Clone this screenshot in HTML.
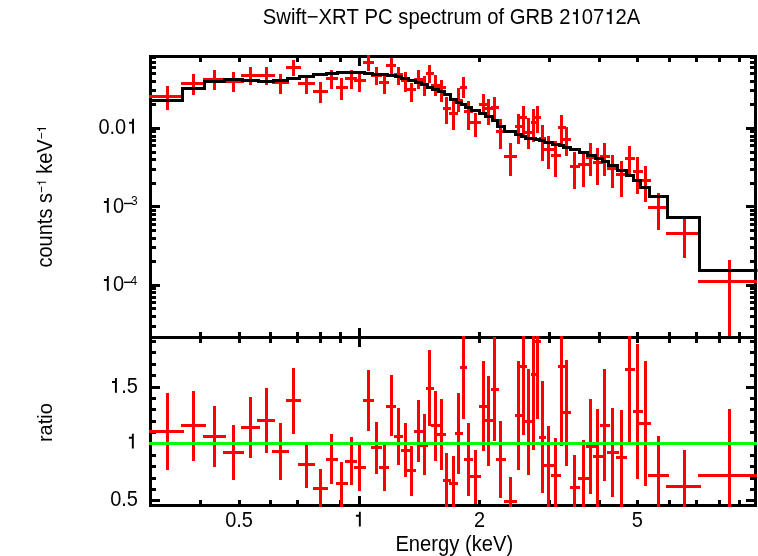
<!DOCTYPE html>
<html><head><meta charset="utf-8"><style>
html,body{margin:0;padding:0;background:#fff;width:758px;height:556px;overflow:hidden}
svg{display:block;will-change:transform}
</style></head><body>
<svg width="758" height="556" viewBox="0 0 758 556">
<rect width="758" height="556" fill="#fff"/>
<rect x="149.00" y="55.00" width="608.00" height="3.00" fill="#000000"/>
<rect x="149.00" y="336.00" width="608.00" height="3.00" fill="#000000"/>
<rect x="149.00" y="504.00" width="608.00" height="3.00" fill="#000000"/>
<rect x="149.00" y="55.00" width="3.00" height="452.00" fill="#000000"/>
<rect x="754.00" y="55.00" width="3.00" height="452.00" fill="#000000"/>
<rect x="199.00" y="58.00" width="3.00" height="4.00" fill="#000000"/>
<rect x="199.00" y="332.00" width="3.00" height="4.00" fill="#000000"/>
<rect x="199.00" y="339.00" width="3.00" height="4.00" fill="#000000"/>
<rect x="199.00" y="500.00" width="3.00" height="4.00" fill="#000000"/>
<rect x="238.00" y="58.00" width="3.00" height="4.00" fill="#000000"/>
<rect x="238.00" y="332.00" width="3.00" height="4.00" fill="#000000"/>
<rect x="238.00" y="339.00" width="3.00" height="4.00" fill="#000000"/>
<rect x="238.00" y="500.00" width="3.00" height="4.00" fill="#000000"/>
<rect x="269.00" y="58.00" width="3.00" height="4.00" fill="#000000"/>
<rect x="269.00" y="332.00" width="3.00" height="4.00" fill="#000000"/>
<rect x="269.00" y="339.00" width="3.00" height="4.00" fill="#000000"/>
<rect x="269.00" y="500.00" width="3.00" height="4.00" fill="#000000"/>
<rect x="296.00" y="58.00" width="3.00" height="4.00" fill="#000000"/>
<rect x="296.00" y="332.00" width="3.00" height="4.00" fill="#000000"/>
<rect x="296.00" y="339.00" width="3.00" height="4.00" fill="#000000"/>
<rect x="296.00" y="500.00" width="3.00" height="4.00" fill="#000000"/>
<rect x="319.00" y="58.00" width="3.00" height="4.00" fill="#000000"/>
<rect x="319.00" y="332.00" width="3.00" height="4.00" fill="#000000"/>
<rect x="319.00" y="339.00" width="3.00" height="4.00" fill="#000000"/>
<rect x="319.00" y="500.00" width="3.00" height="4.00" fill="#000000"/>
<rect x="339.00" y="58.00" width="3.00" height="4.00" fill="#000000"/>
<rect x="339.00" y="332.00" width="3.00" height="4.00" fill="#000000"/>
<rect x="339.00" y="339.00" width="3.00" height="4.00" fill="#000000"/>
<rect x="339.00" y="500.00" width="3.00" height="4.00" fill="#000000"/>
<rect x="358.00" y="58.00" width="3.00" height="8.00" fill="#000000"/>
<rect x="358.00" y="328.00" width="3.00" height="8.00" fill="#000000"/>
<rect x="358.00" y="339.00" width="3.00" height="8.00" fill="#000000"/>
<rect x="358.00" y="496.00" width="3.00" height="8.00" fill="#000000"/>
<rect x="478.00" y="58.00" width="3.00" height="4.00" fill="#000000"/>
<rect x="478.00" y="332.00" width="3.00" height="4.00" fill="#000000"/>
<rect x="478.00" y="339.00" width="3.00" height="4.00" fill="#000000"/>
<rect x="478.00" y="500.00" width="3.00" height="4.00" fill="#000000"/>
<rect x="548.00" y="58.00" width="3.00" height="4.00" fill="#000000"/>
<rect x="548.00" y="332.00" width="3.00" height="4.00" fill="#000000"/>
<rect x="548.00" y="339.00" width="3.00" height="4.00" fill="#000000"/>
<rect x="548.00" y="500.00" width="3.00" height="4.00" fill="#000000"/>
<rect x="598.00" y="58.00" width="3.00" height="4.00" fill="#000000"/>
<rect x="598.00" y="332.00" width="3.00" height="4.00" fill="#000000"/>
<rect x="598.00" y="339.00" width="3.00" height="4.00" fill="#000000"/>
<rect x="598.00" y="500.00" width="3.00" height="4.00" fill="#000000"/>
<rect x="636.00" y="58.00" width="3.00" height="4.00" fill="#000000"/>
<rect x="636.00" y="332.00" width="3.00" height="4.00" fill="#000000"/>
<rect x="636.00" y="339.00" width="3.00" height="4.00" fill="#000000"/>
<rect x="636.00" y="500.00" width="3.00" height="4.00" fill="#000000"/>
<rect x="668.00" y="58.00" width="3.00" height="4.00" fill="#000000"/>
<rect x="668.00" y="332.00" width="3.00" height="4.00" fill="#000000"/>
<rect x="668.00" y="339.00" width="3.00" height="4.00" fill="#000000"/>
<rect x="668.00" y="500.00" width="3.00" height="4.00" fill="#000000"/>
<rect x="695.00" y="58.00" width="3.00" height="4.00" fill="#000000"/>
<rect x="695.00" y="332.00" width="3.00" height="4.00" fill="#000000"/>
<rect x="695.00" y="339.00" width="3.00" height="4.00" fill="#000000"/>
<rect x="695.00" y="500.00" width="3.00" height="4.00" fill="#000000"/>
<rect x="718.00" y="58.00" width="3.00" height="4.00" fill="#000000"/>
<rect x="718.00" y="332.00" width="3.00" height="4.00" fill="#000000"/>
<rect x="718.00" y="339.00" width="3.00" height="4.00" fill="#000000"/>
<rect x="718.00" y="500.00" width="3.00" height="4.00" fill="#000000"/>
<rect x="738.00" y="58.00" width="3.00" height="4.00" fill="#000000"/>
<rect x="738.00" y="332.00" width="3.00" height="4.00" fill="#000000"/>
<rect x="738.00" y="339.00" width="3.00" height="4.00" fill="#000000"/>
<rect x="738.00" y="500.00" width="3.00" height="4.00" fill="#000000"/>
<rect x="152.00" y="325.00" width="4.00" height="3.00" fill="#000000"/>
<rect x="750.00" y="325.00" width="4.00" height="3.00" fill="#000000"/>
<rect x="152.00" y="315.00" width="4.00" height="3.00" fill="#000000"/>
<rect x="750.00" y="315.00" width="4.00" height="3.00" fill="#000000"/>
<rect x="152.00" y="307.00" width="4.00" height="3.00" fill="#000000"/>
<rect x="750.00" y="307.00" width="4.00" height="3.00" fill="#000000"/>
<rect x="152.00" y="301.00" width="4.00" height="3.00" fill="#000000"/>
<rect x="750.00" y="301.00" width="4.00" height="3.00" fill="#000000"/>
<rect x="152.00" y="296.00" width="4.00" height="3.00" fill="#000000"/>
<rect x="750.00" y="296.00" width="4.00" height="3.00" fill="#000000"/>
<rect x="152.00" y="291.00" width="4.00" height="3.00" fill="#000000"/>
<rect x="750.00" y="291.00" width="4.00" height="3.00" fill="#000000"/>
<rect x="152.00" y="287.00" width="4.00" height="3.00" fill="#000000"/>
<rect x="750.00" y="287.00" width="4.00" height="3.00" fill="#000000"/>
<rect x="152.00" y="284.00" width="8.00" height="3.00" fill="#000000"/>
<rect x="746.00" y="284.00" width="8.00" height="3.00" fill="#000000"/>
<rect x="152.00" y="260.00" width="4.00" height="3.00" fill="#000000"/>
<rect x="750.00" y="260.00" width="4.00" height="3.00" fill="#000000"/>
<rect x="152.00" y="246.00" width="4.00" height="3.00" fill="#000000"/>
<rect x="750.00" y="246.00" width="4.00" height="3.00" fill="#000000"/>
<rect x="152.00" y="237.00" width="4.00" height="3.00" fill="#000000"/>
<rect x="750.00" y="237.00" width="4.00" height="3.00" fill="#000000"/>
<rect x="152.00" y="229.00" width="4.00" height="3.00" fill="#000000"/>
<rect x="750.00" y="229.00" width="4.00" height="3.00" fill="#000000"/>
<rect x="152.00" y="223.00" width="4.00" height="3.00" fill="#000000"/>
<rect x="750.00" y="223.00" width="4.00" height="3.00" fill="#000000"/>
<rect x="152.00" y="218.00" width="4.00" height="3.00" fill="#000000"/>
<rect x="750.00" y="218.00" width="4.00" height="3.00" fill="#000000"/>
<rect x="152.00" y="213.00" width="4.00" height="3.00" fill="#000000"/>
<rect x="750.00" y="213.00" width="4.00" height="3.00" fill="#000000"/>
<rect x="152.00" y="209.00" width="4.00" height="3.00" fill="#000000"/>
<rect x="750.00" y="209.00" width="4.00" height="3.00" fill="#000000"/>
<rect x="152.00" y="205.00" width="8.00" height="3.00" fill="#000000"/>
<rect x="746.00" y="205.00" width="8.00" height="3.00" fill="#000000"/>
<rect x="152.00" y="182.00" width="4.00" height="3.00" fill="#000000"/>
<rect x="750.00" y="182.00" width="4.00" height="3.00" fill="#000000"/>
<rect x="152.00" y="168.00" width="4.00" height="3.00" fill="#000000"/>
<rect x="750.00" y="168.00" width="4.00" height="3.00" fill="#000000"/>
<rect x="152.00" y="158.00" width="4.00" height="3.00" fill="#000000"/>
<rect x="750.00" y="158.00" width="4.00" height="3.00" fill="#000000"/>
<rect x="152.00" y="151.00" width="4.00" height="3.00" fill="#000000"/>
<rect x="750.00" y="151.00" width="4.00" height="3.00" fill="#000000"/>
<rect x="152.00" y="144.00" width="4.00" height="3.00" fill="#000000"/>
<rect x="750.00" y="144.00" width="4.00" height="3.00" fill="#000000"/>
<rect x="152.00" y="139.00" width="4.00" height="3.00" fill="#000000"/>
<rect x="750.00" y="139.00" width="4.00" height="3.00" fill="#000000"/>
<rect x="152.00" y="135.00" width="4.00" height="3.00" fill="#000000"/>
<rect x="750.00" y="135.00" width="4.00" height="3.00" fill="#000000"/>
<rect x="152.00" y="130.00" width="4.00" height="3.00" fill="#000000"/>
<rect x="750.00" y="130.00" width="4.00" height="3.00" fill="#000000"/>
<rect x="152.00" y="127.00" width="8.00" height="3.00" fill="#000000"/>
<rect x="746.00" y="127.00" width="8.00" height="3.00" fill="#000000"/>
<rect x="152.00" y="103.00" width="4.00" height="3.00" fill="#000000"/>
<rect x="750.00" y="103.00" width="4.00" height="3.00" fill="#000000"/>
<rect x="152.00" y="89.00" width="4.00" height="3.00" fill="#000000"/>
<rect x="750.00" y="89.00" width="4.00" height="3.00" fill="#000000"/>
<rect x="152.00" y="80.00" width="4.00" height="3.00" fill="#000000"/>
<rect x="750.00" y="80.00" width="4.00" height="3.00" fill="#000000"/>
<rect x="152.00" y="72.00" width="4.00" height="3.00" fill="#000000"/>
<rect x="750.00" y="72.00" width="4.00" height="3.00" fill="#000000"/>
<rect x="152.00" y="66.00" width="4.00" height="3.00" fill="#000000"/>
<rect x="750.00" y="66.00" width="4.00" height="3.00" fill="#000000"/>
<rect x="152.00" y="61.00" width="4.00" height="3.00" fill="#000000"/>
<rect x="750.00" y="61.00" width="4.00" height="3.00" fill="#000000"/>
<rect x="152.00" y="56.00" width="4.00" height="3.00" fill="#000000"/>
<rect x="750.00" y="56.00" width="4.00" height="3.00" fill="#000000"/>
<rect x="152.00" y="499.00" width="8.00" height="3.00" fill="#000000"/>
<rect x="746.00" y="499.00" width="8.00" height="3.00" fill="#000000"/>
<rect x="152.00" y="488.00" width="4.00" height="3.00" fill="#000000"/>
<rect x="750.00" y="488.00" width="4.00" height="3.00" fill="#000000"/>
<rect x="152.00" y="477.00" width="4.00" height="3.00" fill="#000000"/>
<rect x="750.00" y="477.00" width="4.00" height="3.00" fill="#000000"/>
<rect x="152.00" y="465.00" width="4.00" height="3.00" fill="#000000"/>
<rect x="750.00" y="465.00" width="4.00" height="3.00" fill="#000000"/>
<rect x="152.00" y="454.00" width="4.00" height="3.00" fill="#000000"/>
<rect x="750.00" y="454.00" width="4.00" height="3.00" fill="#000000"/>
<rect x="152.00" y="442.00" width="8.00" height="3.00" fill="#000000"/>
<rect x="746.00" y="442.00" width="8.00" height="3.00" fill="#000000"/>
<rect x="152.00" y="431.00" width="4.00" height="3.00" fill="#000000"/>
<rect x="750.00" y="431.00" width="4.00" height="3.00" fill="#000000"/>
<rect x="152.00" y="420.00" width="4.00" height="3.00" fill="#000000"/>
<rect x="750.00" y="420.00" width="4.00" height="3.00" fill="#000000"/>
<rect x="152.00" y="408.00" width="4.00" height="3.00" fill="#000000"/>
<rect x="750.00" y="408.00" width="4.00" height="3.00" fill="#000000"/>
<rect x="152.00" y="397.00" width="4.00" height="3.00" fill="#000000"/>
<rect x="750.00" y="397.00" width="4.00" height="3.00" fill="#000000"/>
<rect x="152.00" y="386.00" width="8.00" height="3.00" fill="#000000"/>
<rect x="746.00" y="386.00" width="8.00" height="3.00" fill="#000000"/>
<rect x="152.00" y="374.00" width="4.00" height="3.00" fill="#000000"/>
<rect x="750.00" y="374.00" width="4.00" height="3.00" fill="#000000"/>
<rect x="152.00" y="363.00" width="4.00" height="3.00" fill="#000000"/>
<rect x="750.00" y="363.00" width="4.00" height="3.00" fill="#000000"/>
<rect x="152.00" y="351.00" width="4.00" height="3.00" fill="#000000"/>
<rect x="750.00" y="351.00" width="4.00" height="3.00" fill="#000000"/>
<rect x="152.00" y="340.00" width="4.00" height="3.00" fill="#000000"/>
<rect x="750.00" y="340.00" width="4.00" height="3.00" fill="#000000"/>
<rect x="149.00" y="95.00" width="35.00" height="3.00" fill="#ff0000"/>
<rect x="166.00" y="86.00" width="3.00" height="24.00" fill="#ff0000"/>
<rect x="181.00" y="82.00" width="25.00" height="3.00" fill="#ff0000"/>
<rect x="192.00" y="74.00" width="3.00" height="21.00" fill="#ff0000"/>
<rect x="203.00" y="78.00" width="23.00" height="3.00" fill="#ff0000"/>
<rect x="213.00" y="70.00" width="3.00" height="20.00" fill="#ff0000"/>
<rect x="223.00" y="80.00" width="21.00" height="3.00" fill="#ff0000"/>
<rect x="232.00" y="72.00" width="3.00" height="20.00" fill="#ff0000"/>
<rect x="241.00" y="74.00" width="19.00" height="3.00" fill="#ff0000"/>
<rect x="249.00" y="67.00" width="3.00" height="18.00" fill="#ff0000"/>
<rect x="257.00" y="74.00" width="18.00" height="3.00" fill="#ff0000"/>
<rect x="265.00" y="67.00" width="3.00" height="18.00" fill="#ff0000"/>
<rect x="272.00" y="81.00" width="17.00" height="3.00" fill="#ff0000"/>
<rect x="279.00" y="74.00" width="3.00" height="20.00" fill="#ff0000"/>
<rect x="286.00" y="66.00" width="15.00" height="3.00" fill="#ff0000"/>
<rect x="292.00" y="60.00" width="3.00" height="16.00" fill="#ff0000"/>
<rect x="298.00" y="82.00" width="17.00" height="3.00" fill="#ff0000"/>
<rect x="305.00" y="78.00" width="3.00" height="16.00" fill="#ff0000"/>
<rect x="313.00" y="90.00" width="15.00" height="3.00" fill="#ff0000"/>
<rect x="319.00" y="82.00" width="3.00" height="21.00" fill="#ff0000"/>
<rect x="326.00" y="77.00" width="12.00" height="3.00" fill="#ff0000"/>
<rect x="330.00" y="70.00" width="3.00" height="19.00" fill="#ff0000"/>
<rect x="336.00" y="86.00" width="12.00" height="3.00" fill="#ff0000"/>
<rect x="340.00" y="78.00" width="3.00" height="22.00" fill="#ff0000"/>
<rect x="345.00" y="77.00" width="12.00" height="3.00" fill="#ff0000"/>
<rect x="350.00" y="70.00" width="3.00" height="19.00" fill="#ff0000"/>
<rect x="354.00" y="79.00" width="12.00" height="3.00" fill="#ff0000"/>
<rect x="358.00" y="74.00" width="3.00" height="18.00" fill="#ff0000"/>
<rect x="363.00" y="61.00" width="11.00" height="3.00" fill="#ff0000"/>
<rect x="367.00" y="55.00" width="3.00" height="16.00" fill="#ff0000"/>
<rect x="371.00" y="74.00" width="11.00" height="3.00" fill="#ff0000"/>
<rect x="375.00" y="67.00" width="3.00" height="18.00" fill="#ff0000"/>
<rect x="379.00" y="81.00" width="10.00" height="3.00" fill="#ff0000"/>
<rect x="383.00" y="75.00" width="3.00" height="19.00" fill="#ff0000"/>
<rect x="386.00" y="64.00" width="10.00" height="3.00" fill="#ff0000"/>
<rect x="390.00" y="58.00" width="3.00" height="16.00" fill="#ff0000"/>
<rect x="394.00" y="73.00" width="9.00" height="3.00" fill="#ff0000"/>
<rect x="397.00" y="67.00" width="3.00" height="18.00" fill="#ff0000"/>
<rect x="401.00" y="79.00" width="10.00" height="3.00" fill="#ff0000"/>
<rect x="404.00" y="72.00" width="3.00" height="20.00" fill="#ff0000"/>
<rect x="406.00" y="88.00" width="10.00" height="3.00" fill="#ff0000"/>
<rect x="410.00" y="83.00" width="3.00" height="19.00" fill="#ff0000"/>
<rect x="414.00" y="78.00" width="9.00" height="3.00" fill="#ff0000"/>
<rect x="417.00" y="70.00" width="3.00" height="19.00" fill="#ff0000"/>
<rect x="420.00" y="83.00" width="8.00" height="3.00" fill="#ff0000"/>
<rect x="423.00" y="76.00" width="3.00" height="20.00" fill="#ff0000"/>
<rect x="426.00" y="72.00" width="8.00" height="3.00" fill="#ff0000"/>
<rect x="428.00" y="65.00" width="3.00" height="18.00" fill="#ff0000"/>
<rect x="431.00" y="84.00" width="9.00" height="3.00" fill="#ff0000"/>
<rect x="434.00" y="75.00" width="3.00" height="21.00" fill="#ff0000"/>
<rect x="437.00" y="86.00" width="9.00" height="3.00" fill="#ff0000"/>
<rect x="440.00" y="80.00" width="3.00" height="22.00" fill="#ff0000"/>
<rect x="443.00" y="107.00" width="8.00" height="3.00" fill="#ff0000"/>
<rect x="445.00" y="97.00" width="3.00" height="27.00" fill="#ff0000"/>
<rect x="449.00" y="112.00" width="9.00" height="3.00" fill="#ff0000"/>
<rect x="452.00" y="101.00" width="3.00" height="29.00" fill="#ff0000"/>
<rect x="455.00" y="99.00" width="8.00" height="3.00" fill="#ff0000"/>
<rect x="457.00" y="88.00" width="3.00" height="24.00" fill="#ff0000"/>
<rect x="460.00" y="86.00" width="7.00" height="3.00" fill="#ff0000"/>
<rect x="462.00" y="77.00" width="3.00" height="21.00" fill="#ff0000"/>
<rect x="464.00" y="110.00" width="9.00" height="3.00" fill="#ff0000"/>
<rect x="467.00" y="101.00" width="3.00" height="29.00" fill="#ff0000"/>
<rect x="470.00" y="121.00" width="11.00" height="3.00" fill="#ff0000"/>
<rect x="474.00" y="113.00" width="3.00" height="24.00" fill="#ff0000"/>
<rect x="479.00" y="103.00" width="9.00" height="3.00" fill="#ff0000"/>
<rect x="482.00" y="94.00" width="3.00" height="20.00" fill="#ff0000"/>
<rect x="484.00" y="107.00" width="10.00" height="3.00" fill="#ff0000"/>
<rect x="487.00" y="99.00" width="3.00" height="26.00" fill="#ff0000"/>
<rect x="491.00" y="106.00" width="8.00" height="3.00" fill="#ff0000"/>
<rect x="493.00" y="97.00" width="3.00" height="22.00" fill="#ff0000"/>
<rect x="496.00" y="130.00" width="10.00" height="3.00" fill="#ff0000"/>
<rect x="499.00" y="119.00" width="3.00" height="30.00" fill="#ff0000"/>
<rect x="504.00" y="155.00" width="13.00" height="3.00" fill="#ff0000"/>
<rect x="509.00" y="143.00" width="3.00" height="33.00" fill="#ff0000"/>
<rect x="515.00" y="125.00" width="9.00" height="3.00" fill="#ff0000"/>
<rect x="517.00" y="114.00" width="3.00" height="30.00" fill="#ff0000"/>
<rect x="519.00" y="116.00" width="8.00" height="3.00" fill="#ff0000"/>
<rect x="522.00" y="106.00" width="3.00" height="31.00" fill="#ff0000"/>
<rect x="524.00" y="131.00" width="10.00" height="3.00" fill="#ff0000"/>
<rect x="527.00" y="118.00" width="3.00" height="31.00" fill="#ff0000"/>
<rect x="531.00" y="121.00" width="6.00" height="3.00" fill="#ff0000"/>
<rect x="532.00" y="109.00" width="3.00" height="33.00" fill="#ff0000"/>
<rect x="535.00" y="116.00" width="6.00" height="3.00" fill="#ff0000"/>
<rect x="536.00" y="106.00" width="3.00" height="27.00" fill="#ff0000"/>
<rect x="539.00" y="137.00" width="7.00" height="3.00" fill="#ff0000"/>
<rect x="541.00" y="125.00" width="3.00" height="36.00" fill="#ff0000"/>
<rect x="543.00" y="148.00" width="11.00" height="3.00" fill="#ff0000"/>
<rect x="547.00" y="136.00" width="3.00" height="33.00" fill="#ff0000"/>
<rect x="551.00" y="154.00" width="10.00" height="3.00" fill="#ff0000"/>
<rect x="554.00" y="141.00" width="3.00" height="36.00" fill="#ff0000"/>
<rect x="558.00" y="126.00" width="8.00" height="3.00" fill="#ff0000"/>
<rect x="560.00" y="115.00" width="3.00" height="29.00" fill="#ff0000"/>
<rect x="562.00" y="138.00" width="9.00" height="3.00" fill="#ff0000"/>
<rect x="565.00" y="127.00" width="3.00" height="29.00" fill="#ff0000"/>
<rect x="570.00" y="165.00" width="10.00" height="3.00" fill="#ff0000"/>
<rect x="573.00" y="152.00" width="3.00" height="37.00" fill="#ff0000"/>
<rect x="578.00" y="163.00" width="11.00" height="3.00" fill="#ff0000"/>
<rect x="582.00" y="154.00" width="3.00" height="33.00" fill="#ff0000"/>
<rect x="586.00" y="156.00" width="13.00" height="3.00" fill="#ff0000"/>
<rect x="589.00" y="143.00" width="3.00" height="33.00" fill="#ff0000"/>
<rect x="593.00" y="161.00" width="12.00" height="3.00" fill="#ff0000"/>
<rect x="596.00" y="148.00" width="3.00" height="37.00" fill="#ff0000"/>
<rect x="600.00" y="155.00" width="10.00" height="3.00" fill="#ff0000"/>
<rect x="603.00" y="143.00" width="3.00" height="33.00" fill="#ff0000"/>
<rect x="607.00" y="167.00" width="12.00" height="3.00" fill="#ff0000"/>
<rect x="611.00" y="155.00" width="3.00" height="33.00" fill="#ff0000"/>
<rect x="616.00" y="173.00" width="11.00" height="3.00" fill="#ff0000"/>
<rect x="620.00" y="161.00" width="3.00" height="36.00" fill="#ff0000"/>
<rect x="625.00" y="157.00" width="10.00" height="3.00" fill="#ff0000"/>
<rect x="628.00" y="146.00" width="3.00" height="29.00" fill="#ff0000"/>
<rect x="633.00" y="170.00" width="10.00" height="3.00" fill="#ff0000"/>
<rect x="636.00" y="157.00" width="3.00" height="37.00" fill="#ff0000"/>
<rect x="639.00" y="179.00" width="12.00" height="3.00" fill="#ff0000"/>
<rect x="644.00" y="166.00" width="3.00" height="36.00" fill="#ff0000"/>
<rect x="648.00" y="206.00" width="21.00" height="3.00" fill="#ff0000"/>
<rect x="657.00" y="193.00" width="3.00" height="37.00" fill="#ff0000"/>
<rect x="666.00" y="232.00" width="35.00" height="3.00" fill="#ff0000"/>
<rect x="683.00" y="218.00" width="3.00" height="40.00" fill="#ff0000"/>
<rect x="698.00" y="280.00" width="59.00" height="3.00" fill="#ff0000"/>
<rect x="728.00" y="260.00" width="3.00" height="76.00" fill="#ff0000"/>
<rect x="149.00" y="430.00" width="35.00" height="3.00" fill="#ff0000"/>
<rect x="166.00" y="393.00" width="3.00" height="77.00" fill="#ff0000"/>
<rect x="181.00" y="424.00" width="25.00" height="3.00" fill="#ff0000"/>
<rect x="192.00" y="391.00" width="3.00" height="70.00" fill="#ff0000"/>
<rect x="203.00" y="435.00" width="23.00" height="3.00" fill="#ff0000"/>
<rect x="213.00" y="406.00" width="3.00" height="61.00" fill="#ff0000"/>
<rect x="223.00" y="451.00" width="21.00" height="3.00" fill="#ff0000"/>
<rect x="232.00" y="425.00" width="3.00" height="55.00" fill="#ff0000"/>
<rect x="241.00" y="426.00" width="19.00" height="3.00" fill="#ff0000"/>
<rect x="249.00" y="397.00" width="3.00" height="61.00" fill="#ff0000"/>
<rect x="257.00" y="419.00" width="18.00" height="3.00" fill="#ff0000"/>
<rect x="265.00" y="388.00" width="3.00" height="65.00" fill="#ff0000"/>
<rect x="272.00" y="450.00" width="17.00" height="3.00" fill="#ff0000"/>
<rect x="279.00" y="423.00" width="3.00" height="57.00" fill="#ff0000"/>
<rect x="286.00" y="399.00" width="15.00" height="3.00" fill="#ff0000"/>
<rect x="292.00" y="368.00" width="3.00" height="66.00" fill="#ff0000"/>
<rect x="298.00" y="463.00" width="17.00" height="3.00" fill="#ff0000"/>
<rect x="305.00" y="445.00" width="3.00" height="43.00" fill="#ff0000"/>
<rect x="313.00" y="487.00" width="15.00" height="3.00" fill="#ff0000"/>
<rect x="319.00" y="469.00" width="3.00" height="38.00" fill="#ff0000"/>
<rect x="326.00" y="458.00" width="12.00" height="3.00" fill="#ff0000"/>
<rect x="330.00" y="434.00" width="3.00" height="50.00" fill="#ff0000"/>
<rect x="336.00" y="482.00" width="12.00" height="3.00" fill="#ff0000"/>
<rect x="340.00" y="462.00" width="3.00" height="45.00" fill="#ff0000"/>
<rect x="345.00" y="460.00" width="12.00" height="3.00" fill="#ff0000"/>
<rect x="350.00" y="437.00" width="3.00" height="48.00" fill="#ff0000"/>
<rect x="354.00" y="466.00" width="12.00" height="3.00" fill="#ff0000"/>
<rect x="358.00" y="445.00" width="3.00" height="46.00" fill="#ff0000"/>
<rect x="363.00" y="399.00" width="11.00" height="3.00" fill="#ff0000"/>
<rect x="367.00" y="370.00" width="3.00" height="61.00" fill="#ff0000"/>
<rect x="371.00" y="446.00" width="11.00" height="3.00" fill="#ff0000"/>
<rect x="375.00" y="422.00" width="3.00" height="52.00" fill="#ff0000"/>
<rect x="379.00" y="466.00" width="10.00" height="3.00" fill="#ff0000"/>
<rect x="383.00" y="445.00" width="3.00" height="46.00" fill="#ff0000"/>
<rect x="386.00" y="405.00" width="10.00" height="3.00" fill="#ff0000"/>
<rect x="390.00" y="375.00" width="3.00" height="61.00" fill="#ff0000"/>
<rect x="394.00" y="435.00" width="9.00" height="3.00" fill="#ff0000"/>
<rect x="397.00" y="408.00" width="3.00" height="57.00" fill="#ff0000"/>
<rect x="401.00" y="449.00" width="10.00" height="3.00" fill="#ff0000"/>
<rect x="404.00" y="423.00" width="3.00" height="54.00" fill="#ff0000"/>
<rect x="406.00" y="469.00" width="10.00" height="3.00" fill="#ff0000"/>
<rect x="410.00" y="446.00" width="3.00" height="50.00" fill="#ff0000"/>
<rect x="414.00" y="430.00" width="9.00" height="3.00" fill="#ff0000"/>
<rect x="417.00" y="400.00" width="3.00" height="62.00" fill="#ff0000"/>
<rect x="420.00" y="444.00" width="8.00" height="3.00" fill="#ff0000"/>
<rect x="423.00" y="414.00" width="3.00" height="61.00" fill="#ff0000"/>
<rect x="426.00" y="387.00" width="8.00" height="3.00" fill="#ff0000"/>
<rect x="428.00" y="350.00" width="3.00" height="76.00" fill="#ff0000"/>
<rect x="431.00" y="424.00" width="9.00" height="3.00" fill="#ff0000"/>
<rect x="434.00" y="391.00" width="3.00" height="70.00" fill="#ff0000"/>
<rect x="437.00" y="433.00" width="9.00" height="3.00" fill="#ff0000"/>
<rect x="440.00" y="399.00" width="3.00" height="71.00" fill="#ff0000"/>
<rect x="443.00" y="479.00" width="8.00" height="3.00" fill="#ff0000"/>
<rect x="445.00" y="453.00" width="3.00" height="54.00" fill="#ff0000"/>
<rect x="449.00" y="482.00" width="9.00" height="3.00" fill="#ff0000"/>
<rect x="452.00" y="456.00" width="3.00" height="51.00" fill="#ff0000"/>
<rect x="455.00" y="432.00" width="8.00" height="3.00" fill="#ff0000"/>
<rect x="457.00" y="393.00" width="3.00" height="81.00" fill="#ff0000"/>
<rect x="460.00" y="366.00" width="7.00" height="3.00" fill="#ff0000"/>
<rect x="462.00" y="336.00" width="3.00" height="83.00" fill="#ff0000"/>
<rect x="464.00" y="458.00" width="9.00" height="3.00" fill="#ff0000"/>
<rect x="467.00" y="423.00" width="3.00" height="73.00" fill="#ff0000"/>
<rect x="470.00" y="475.00" width="11.00" height="3.00" fill="#ff0000"/>
<rect x="474.00" y="450.00" width="3.00" height="54.00" fill="#ff0000"/>
<rect x="479.00" y="405.00" width="9.00" height="3.00" fill="#ff0000"/>
<rect x="482.00" y="361.00" width="3.00" height="90.00" fill="#ff0000"/>
<rect x="484.00" y="419.00" width="10.00" height="3.00" fill="#ff0000"/>
<rect x="487.00" y="376.00" width="3.00" height="90.00" fill="#ff0000"/>
<rect x="491.00" y="388.00" width="8.00" height="3.00" fill="#ff0000"/>
<rect x="493.00" y="337.00" width="3.00" height="104.00" fill="#ff0000"/>
<rect x="496.00" y="458.00" width="10.00" height="3.00" fill="#ff0000"/>
<rect x="499.00" y="421.00" width="3.00" height="77.00" fill="#ff0000"/>
<rect x="504.00" y="500.00" width="13.00" height="3.00" fill="#ff0000"/>
<rect x="509.00" y="477.00" width="3.00" height="30.00" fill="#ff0000"/>
<rect x="515.00" y="414.00" width="9.00" height="3.00" fill="#ff0000"/>
<rect x="517.00" y="361.00" width="3.00" height="109.00" fill="#ff0000"/>
<rect x="519.00" y="365.00" width="8.00" height="3.00" fill="#ff0000"/>
<rect x="522.00" y="336.00" width="3.00" height="99.00" fill="#ff0000"/>
<rect x="524.00" y="420.00" width="10.00" height="3.00" fill="#ff0000"/>
<rect x="527.00" y="369.00" width="3.00" height="106.00" fill="#ff0000"/>
<rect x="531.00" y="373.00" width="6.00" height="3.00" fill="#ff0000"/>
<rect x="532.00" y="336.00" width="3.00" height="114.00" fill="#ff0000"/>
<rect x="535.00" y="340.00" width="6.00" height="3.00" fill="#ff0000"/>
<rect x="536.00" y="336.00" width="3.00" height="83.00" fill="#ff0000"/>
<rect x="539.00" y="436.00" width="7.00" height="3.00" fill="#ff0000"/>
<rect x="541.00" y="381.00" width="3.00" height="112.00" fill="#ff0000"/>
<rect x="543.00" y="464.00" width="11.00" height="3.00" fill="#ff0000"/>
<rect x="547.00" y="426.00" width="3.00" height="81.00" fill="#ff0000"/>
<rect x="551.00" y="474.00" width="10.00" height="3.00" fill="#ff0000"/>
<rect x="554.00" y="438.00" width="3.00" height="69.00" fill="#ff0000"/>
<rect x="558.00" y="365.00" width="8.00" height="3.00" fill="#ff0000"/>
<rect x="560.00" y="336.00" width="3.00" height="110.00" fill="#ff0000"/>
<rect x="562.00" y="411.00" width="9.00" height="3.00" fill="#ff0000"/>
<rect x="565.00" y="360.00" width="3.00" height="106.00" fill="#ff0000"/>
<rect x="570.00" y="486.00" width="10.00" height="3.00" fill="#ff0000"/>
<rect x="573.00" y="455.00" width="3.00" height="52.00" fill="#ff0000"/>
<rect x="578.00" y="477.00" width="11.00" height="3.00" fill="#ff0000"/>
<rect x="582.00" y="440.00" width="3.00" height="67.00" fill="#ff0000"/>
<rect x="586.00" y="445.00" width="13.00" height="3.00" fill="#ff0000"/>
<rect x="589.00" y="399.00" width="3.00" height="95.00" fill="#ff0000"/>
<rect x="593.00" y="455.00" width="12.00" height="3.00" fill="#ff0000"/>
<rect x="596.00" y="409.00" width="3.00" height="98.00" fill="#ff0000"/>
<rect x="600.00" y="424.00" width="10.00" height="3.00" fill="#ff0000"/>
<rect x="603.00" y="369.00" width="3.00" height="112.00" fill="#ff0000"/>
<rect x="607.00" y="451.00" width="12.00" height="3.00" fill="#ff0000"/>
<rect x="611.00" y="408.00" width="3.00" height="89.00" fill="#ff0000"/>
<rect x="616.00" y="456.00" width="11.00" height="3.00" fill="#ff0000"/>
<rect x="620.00" y="410.00" width="3.00" height="97.00" fill="#ff0000"/>
<rect x="625.00" y="368.00" width="10.00" height="3.00" fill="#ff0000"/>
<rect x="628.00" y="336.00" width="3.00" height="107.00" fill="#ff0000"/>
<rect x="633.00" y="410.00" width="10.00" height="3.00" fill="#ff0000"/>
<rect x="636.00" y="344.00" width="3.00" height="135.00" fill="#ff0000"/>
<rect x="639.00" y="422.00" width="12.00" height="3.00" fill="#ff0000"/>
<rect x="644.00" y="361.00" width="3.00" height="125.00" fill="#ff0000"/>
<rect x="648.00" y="474.00" width="21.00" height="3.00" fill="#ff0000"/>
<rect x="657.00" y="436.00" width="3.00" height="71.00" fill="#ff0000"/>
<rect x="666.00" y="485.00" width="35.00" height="3.00" fill="#ff0000"/>
<rect x="683.00" y="450.00" width="3.00" height="57.00" fill="#ff0000"/>
<rect x="698.00" y="474.00" width="59.00" height="3.00" fill="#ff0000"/>
<rect x="728.00" y="409.00" width="3.00" height="98.00" fill="#ff0000"/>
<path d="M150.50 100.50 H182.50 V88.50 H204.50 V81.50 H224.50 V79.50 H242.50 V80.50 H258.50 V81.50 H273.50 V80.50 H287.50 V78.50 H299.50 V76.50 H313.50 V74.50 H326.50 V73.50 H337.50 V72.50 H346.50 V72.50 H355.50 V72.50 H364.50 V73.50 H372.50 V74.50 H380.50 V74.50 H387.50 V75.50 H395.50 V76.50 H401.50 V78.50 H408.50 V80.50 H415.50 V82.50 H421.50 V84.50 H427.50 V87.50 H432.50 V89.50 H438.50 V91.50 H444.50 V94.50 H450.50 V99.50 H456.50 V102.50 H461.50 V104.50 H465.50 V107.50 H471.50 V110.50 H479.50 V113.50 H485.50 V116.50 H492.50 V120.50 H497.50 V126.50 H504.50 V131.50 H515.50 V134.50 H521.50 V136.50 H525.50 V138.50 H532.50 V138.50 H535.50 V139.50 H539.50 V140.50 H544.50 V142.50 H552.50 V144.50 H559.50 V145.50 H563.50 V147.50 H570.50 V149.50 H579.50 V152.50 H587.50 V155.50 H595.50 V158.50 H602.50 V161.50 H608.50 V165.50 H617.50 V170.50 H626.50 V175.50 H633.50 V180.50 H640.50 V187.50 H649.50 V196.50 H667.50 V217.50 H699.50 V270.50 H757.50" fill="none" stroke="#000" stroke-width="3" stroke-linejoin="miter" stroke-linecap="butt"/>
<rect x="149.00" y="442.00" width="608.00" height="3.00" fill="#00ff00"/>
<text x="262.78" y="24.10" font-size="20.25" style="font-kerning:none" transform="translate(0 24.10) scale(1 1.06) translate(0 -24.10)" font-family="Liberation Sans, sans-serif" >Swift−XRT PC spectrum of GRB 2 07 2A</text>
<path d="M575.92 24.10H577.90V9.12H576.12L575.92 10.53V12.15H572.93V14.18H575.92Z" fill="#000"/>
<path d="M609.71 24.10H611.68V9.12H609.91L609.71 10.53V12.15H606.72V14.18H609.71Z" fill="#000"/>
<text x="98.40" y="133.60" font-size="20" style="font-kerning:none" transform="translate(0 133.60) scale(1 1.06) translate(0 -133.60)" font-family="Liberation Sans, sans-serif" >0.0</text>
<path d="M132.05 133.60H134.00V118.80H132.25L132.05 120.20V121.80H129.10V123.80H132.05Z" fill="#000"/>
<text x="101.82" y="212.70" font-size="20" style="font-kerning:none" transform="translate(0 212.70) scale(1 1.06) translate(0 -212.70)" font-family="Liberation Sans, sans-serif" > 0</text>
<path d="M106.85 212.70H108.80V197.90H107.05L106.85 199.30V200.90H103.90V202.90H106.85Z" fill="#000"/>
<rect x="124" y="202.8" width="7.9" height="1.35" fill="#000"/>
<text x="131.00" y="205.50" font-size="12" style="font-kerning:none" transform="translate(0 205.50) scale(1 1.06) translate(0 -205.50)" font-family="Liberation Sans, sans-serif" >3</text>
<text x="101.82" y="290.70" font-size="20" style="font-kerning:none" transform="translate(0 290.70) scale(1 1.06) translate(0 -290.70)" font-family="Liberation Sans, sans-serif" > 0</text>
<path d="M106.85 290.70H108.80V275.90H107.05L106.85 277.30V278.90H103.90V280.90H106.85Z" fill="#000"/>
<rect x="124" y="281.6" width="7.7" height="1.35" fill="#000"/>
<text x="130.60" y="284.70" font-size="12" style="font-kerning:none" transform="translate(0 284.70) scale(1 1.06) translate(0 -284.70)" font-family="Liberation Sans, sans-serif" >4</text>
<text x="110.20" y="392.70" font-size="20" style="font-kerning:none" transform="translate(0 392.70) scale(1 1.06) translate(0 -392.70)" font-family="Liberation Sans, sans-serif" > .5</text>
<path d="M114.95 392.70H116.90V377.90H115.15L114.95 379.30V380.90H112.00V382.90H114.95Z" fill="#000"/>
<path d="M131.85 448.50H133.80V433.70H132.05L131.85 435.10V436.70H128.90V438.70H131.85Z" fill="#000"/>
<text x="110.20" y="506.00" font-size="20" style="font-kerning:none" transform="translate(0 506.00) scale(1 1.06) translate(0 -506.00)" font-family="Liberation Sans, sans-serif" >0.5</text>
<text x="225.20" y="526.60" font-size="20" style="font-kerning:none" transform="translate(0 526.60) scale(1 1.06) translate(0 -526.60)" font-family="Liberation Sans, sans-serif" >0.5</text>
<path d="M358.85 526.60H360.80V511.80H359.05L358.85 513.20V514.80H355.90V516.80H358.85Z" fill="#000"/>
<text x="474.04" y="526.60" font-size="20" style="font-kerning:none" transform="translate(0 526.60) scale(1 1.06) translate(0 -526.60)" font-family="Liberation Sans, sans-serif" >2</text>
<text x="631.86" y="526.60" font-size="20" style="font-kerning:none" transform="translate(0 526.60) scale(1 1.06) translate(0 -526.60)" font-family="Liberation Sans, sans-serif" >5</text>
<text x="395.40" y="550.60" font-size="20.2" style="font-kerning:none" transform="translate(0 550.60) scale(1 1.06) translate(0 -550.60)" font-family="Liberation Sans, sans-serif" >Energy (keV)</text>
<text transform="translate(52,422.6) rotate(-90)" font-size="20" text-anchor="middle" font-family="Liberation Sans, sans-serif">ratio</text>
<g transform="rotate(-90)">
<text x="-267.50" y="52.00" font-size="20" style="font-kerning:none" transform="translate(0 52.00) scale(1 1.06) translate(0 -52.00)" font-family="Liberation Sans, sans-serif" >counts s</text>
<text x="-193.02" y="46.00" font-size="12" style="font-kerning:none" transform="translate(0 46.00) scale(1 1.06) translate(0 -46.00)" font-family="Liberation Sans, sans-serif" >− </text>
<path d="M-182.83 46.00H-181.66V37.12H-182.71L-182.83 37.96V38.92H-184.60V40.12H-182.83Z" fill="#000"/>
<text x="-173.78" y="52.00" font-size="20" style="font-kerning:none" transform="translate(0 52.00) scale(1 1.06) translate(0 -52.00)" font-family="Liberation Sans, sans-serif" >keV</text>
<text x="-139.32" y="46.00" font-size="12" style="font-kerning:none" transform="translate(0 46.00) scale(1 1.06) translate(0 -46.00)" font-family="Liberation Sans, sans-serif" >− </text>
<path d="M-129.13 46.00H-127.96V37.12H-129.01L-129.13 37.96V38.92H-130.90V40.12H-129.13Z" fill="#000"/>
</g>
</svg>
</body></html>
